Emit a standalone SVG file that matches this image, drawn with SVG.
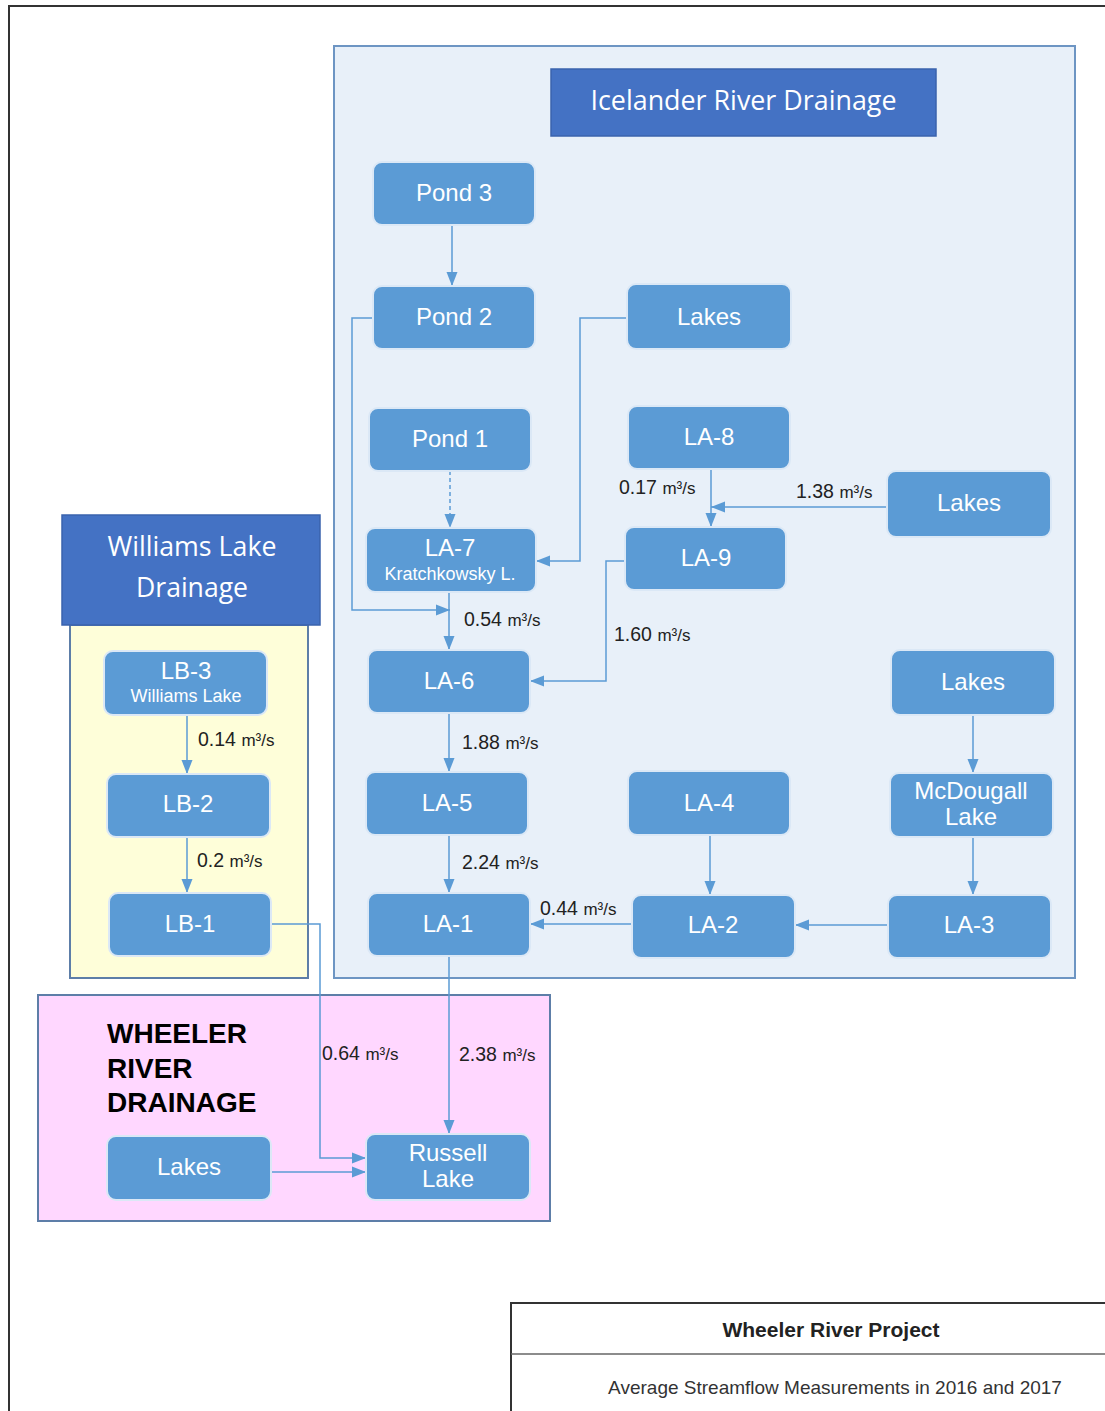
<svg xmlns="http://www.w3.org/2000/svg" width="1105" height="1411" viewBox="0 0 1105 1411">
<style>
.node rect{fill:#5b9bd5;stroke:#dbe8f6;stroke-width:2}
.node text{font-family:"Liberation Sans",Arial,sans-serif;font-size:24px;fill:#ffffff;text-anchor:middle}
.node text.sub{font-size:18px}
.hdr{font-family:"Open Sans","Noto Sans",sans-serif;fill:#ffffff;text-anchor:middle}
.c{fill:none;stroke:#5b9bd5;stroke-width:1.5}
.lbl{font-family:"Liberation Sans",Arial,sans-serif;font-size:19.5px;fill:#222}
.lbl tspan.u{font-size:17px}
</style>
<defs>
<marker id="ah" viewBox="0 0 14 12" refX="14" refY="6" markerWidth="14" markerHeight="12" markerUnits="userSpaceOnUse" orient="auto">
<path d="M0,0.5 L14,6 L0,11.5 Z" fill="#5b9bd5"/>
</marker>
</defs>
<rect width="1105" height="1411" fill="#ffffff"/>
<!-- outer frame -->
<path d="M9,1411 V6 H1105" fill="none" stroke="#333" stroke-width="2"/>
<!-- regions -->
<g id="icelander">
<rect x="334" y="46" width="741" height="932" fill="#e8f0f9" stroke="#6d95c3" stroke-width="2"/>
<rect x="551" y="69" width="385" height="67" fill="#4472c4" stroke="#3a63ad" stroke-width="1.5"/>
<text class="hdr" x="743.5" y="110" font-size="27" textLength="306" lengthAdjust="spacingAndGlyphs">Icelander River Drainage</text>
</g>
<g id="williams">
<rect x="70" y="625" width="238" height="353" fill="#fefed9" stroke="#5d7ea8" stroke-width="2"/>
<rect x="62" y="515" width="258" height="110" fill="#4472c4" stroke="#3a63ad" stroke-width="1.5"/>
<text class="hdr" x="192" y="556" font-size="27" textLength="169" lengthAdjust="spacingAndGlyphs">Williams Lake</text>
<text class="hdr" x="192" y="597" font-size="27" textLength="112" lengthAdjust="spacingAndGlyphs">Drainage</text>
</g>
<g id="wheeler">
<rect x="38" y="995" width="512" height="226" fill="#ffd7ff" stroke="#5d7ea8" stroke-width="2"/>
<text font-family="Liberation Sans,Arial,sans-serif" font-weight="bold" font-size="28" fill="#000">
<tspan x="107" y="1043">WHEELER</tspan>
<tspan x="107" y="1078">RIVER</tspan>
<tspan x="107" y="1112">DRAINAGE</tspan>
</text>
</g>
<!-- connectors -->
<g id="connectors">
<path class="c" d="M452,225 V286" marker-end="url(#ah)"/>
<path class="c" d="M373,318 H352 V610 H450" marker-end="url(#ah)"/>
<path class="c" d="M627,318 H580 V561 H536" marker-end="url(#ah)"/>
<path class="c" d="M450,471 V528" stroke-dasharray="4,3" marker-end="url(#ah)"/>
<path class="c" d="M449,592 V650" marker-end="url(#ah)"/>
<path class="c" d="M711,469 V527" marker-end="url(#ah)"/>
<path class="c" d="M887,507 H711" marker-end="url(#ah)"/>
<path class="c" d="M625,561 H606 V681 H530" marker-end="url(#ah)"/>
<path class="c" d="M449,713 V772" marker-end="url(#ah)"/>
<path class="c" d="M449,835 V893" marker-end="url(#ah)"/>
<path class="c" d="M973,715 V773" marker-end="url(#ah)"/>
<path class="c" d="M973,837 V895" marker-end="url(#ah)"/>
<path class="c" d="M710,835 V895" marker-end="url(#ah)"/>
<path class="c" d="M888,925 H795" marker-end="url(#ah)"/>
<path class="c" d="M632,924 H530" marker-end="url(#ah)"/>
<path class="c" d="M449,956 V1134" marker-end="url(#ah)"/>
<path class="c" d="M271,924 H320 V1158 H366" marker-end="url(#ah)"/>
<path class="c" d="M271,1172 H366" marker-end="url(#ah)"/>
<path class="c" d="M187,715 V774" marker-end="url(#ah)"/>
<path class="c" d="M187,837 V893" marker-end="url(#ah)"/>
</g>
<!-- flow labels -->
<g id="labels">
<text class="lbl" x="619" y="494">0.17 <tspan class="u">m³/s</tspan></text>
<text class="lbl" x="796" y="498">1.38 <tspan class="u">m³/s</tspan></text>
<text class="lbl" x="464" y="626">0.54 <tspan class="u">m³/s</tspan></text>
<text class="lbl" x="614" y="641">1.60 <tspan class="u">m³/s</tspan></text>
<text class="lbl" x="462" y="749">1.88 <tspan class="u">m³/s</tspan></text>
<text class="lbl" x="462" y="869">2.24 <tspan class="u">m³/s</tspan></text>
<text class="lbl" x="540" y="915">0.44 <tspan class="u">m³/s</tspan></text>
<text class="lbl" x="198" y="746">0.14 <tspan class="u">m³/s</tspan></text>
<text class="lbl" x="197" y="867">0.2 <tspan class="u">m³/s</tspan></text>
<text class="lbl" x="322" y="1060">0.64 <tspan class="u">m³/s</tspan></text>
<text class="lbl" x="459" y="1061">2.38 <tspan class="u">m³/s</tspan></text>
</g>
<!-- nodes -->
<g id="pond3" class="node"><rect x="373" y="162" width="162" height="63" rx="9"/><text x="454" y="201">Pond 3</text></g>
<g id="pond2" class="node"><rect x="373" y="286" width="162" height="63" rx="9"/><text x="454" y="325">Pond 2</text></g>
<g id="lakes1" class="node"><rect x="627" y="284" width="164" height="65" rx="9"/><text x="709" y="325">Lakes</text></g>
<g id="pond1" class="node"><rect x="369" y="408" width="162" height="63" rx="9"/><text x="450" y="447">Pond 1</text></g>
<g id="la8" class="node"><rect x="628" y="406" width="162" height="63" rx="9"/><text x="709" y="445">LA-8</text></g>
<g id="lakes2" class="node"><rect x="887" y="471" width="164" height="66" rx="9"/><text x="969" y="511">Lakes</text></g>
<g id="la7" class="node"><rect x="366" y="528" width="170" height="64" rx="9"/><text x="450" y="556">LA-7</text><text class="sub" x="450" y="580">Kratchkowsky L.</text></g>
<g id="la9" class="node"><rect x="625" y="527" width="161" height="63" rx="9"/><text x="706" y="566">LA-9</text></g>
<g id="la6" class="node"><rect x="368" y="650" width="162" height="63" rx="9"/><text x="449" y="689">LA-6</text></g>
<g id="lakes3" class="node"><rect x="891" y="650" width="164" height="65" rx="9"/><text x="973" y="690">Lakes</text></g>
<g id="la5" class="node"><rect x="366" y="772" width="162" height="63" rx="9"/><text x="447" y="811">LA-5</text></g>
<g id="la4" class="node"><rect x="628" y="771" width="162" height="64" rx="9"/><text x="709" y="811">LA-4</text></g>
<g id="mcdougall" class="node"><rect x="890" y="773" width="163" height="64" rx="9"/><text x="971" y="799">McDougall</text><text x="971" y="825">Lake</text></g>
<g id="la1" class="node"><rect x="368" y="893" width="162" height="63" rx="9"/><text x="448" y="932">LA-1</text></g>
<g id="la2" class="node"><rect x="632" y="895" width="163" height="63" rx="9"/><text x="713" y="933">LA-2</text></g>
<g id="la3" class="node"><rect x="888" y="895" width="163" height="63" rx="9"/><text x="969" y="933">LA-3</text></g>
<g id="lb3" class="node"><rect x="104" y="651" width="163" height="64" rx="9"/><text x="186" y="679">LB-3</text><text class="sub" x="186" y="702">Williams Lake</text></g>
<g id="lb2" class="node"><rect x="107" y="774" width="163" height="63" rx="9"/><text x="188" y="812">LB-2</text></g>
<g id="lb1" class="node"><rect x="109" y="893" width="162" height="63" rx="9"/><text x="190" y="932">LB-1</text></g>
<g id="lakes4" class="node"><rect x="107" y="1136" width="164" height="64" rx="9"/><text x="189" y="1175">Lakes</text></g>
<g id="russell" class="node"><rect x="366" y="1134" width="164" height="66" rx="9"/><text x="448" y="1161">Russell</text><text x="448" y="1187">Lake</text></g>
<!-- title block -->
<g id="titleblock">
<path d="M511,1411 V1303 H1105" fill="none" stroke="#333" stroke-width="2"/>
<line x1="511" y1="1354" x2="1105" y2="1354" stroke="#666" stroke-width="1.5"/>
<text x="831" y="1337" font-family="Liberation Sans,Arial,sans-serif" font-weight="bold" font-size="21" fill="#222" text-anchor="middle">Wheeler River Project</text>
<text x="835" y="1394" font-family="Liberation Sans,Arial,sans-serif" font-size="19" fill="#333" text-anchor="middle">Average Streamflow Measurements in 2016 and 2017</text>
</g>
</svg>
